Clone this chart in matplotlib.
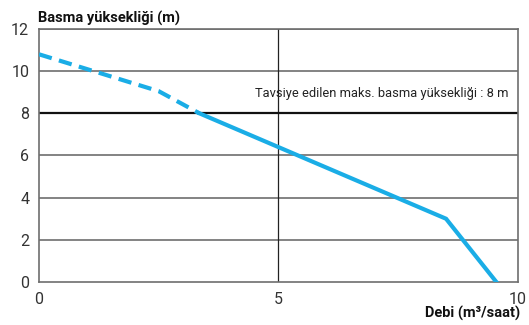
import matplotlib.pyplot as plt

# Pompa eğrisi (debi m3/saat, basma yüksekliği m)
debi_kesikli = [0, 2.5, 3.35]
basma_kesikli = [10.8, 9.05, 8.0]
debi_surekli = [3.35, 8.5, 9.55]
basma_surekli = [8.0, 3.0, 0.0]

maks_basma = 8
x_ticks = [0, 5, 10]
y_ticks = [0, 2, 4, 6, 8, 10, 12]

plt.rcParams['font.family'] = ['Roboto', 'DejaVu Sans']

mavi = '#1aade6'
gri = '#6e6e6e'

fig = plt.figure(figsize=(5.29, 3.25), dpi=100)
ax = fig.add_axes([0.0737, 0.1323, 0.9053, 0.7785])

ax.set_xlim(0, 10)
ax.set_ylim(0, 12)
ax.set_xticks(x_ticks)
ax.set_yticks(y_ticks)

# ızgara çizgileri
for y in y_ticks[1:]:
    if y == maks_basma:
        continue
    ax.axhline(y, color=gri, lw=1.2, zorder=1)
ax.axvline(5, color='#222222', lw=0.9, zorder=1)
ax.axhline(maks_basma, color='#111111', lw=1.6, zorder=1)

ax.plot(debi_kesikli, basma_kesikli, color=mavi, lw=3, ls=(0, (3.2, 1.8)),
        solid_capstyle='butt', zorder=3)
ax.plot(debi_surekli, basma_surekli, color=mavi, lw=3, zorder=3,
        solid_joinstyle='miter')

ax.text(9.81, 8.95, 'Tavsiye edilen maks. basma yüksekliği : 8 m',
        ha='right', va='center', fontsize=9.3, color='#222222')

for s in ax.spines.values():
    s.set_color(gri)
    s.set_linewidth(1.2)

ax.tick_params(length=0, labelsize=11.5, colors='#333333', pad=7)

fig.text(38 / 529, 1 - 18 / 325, 'Basma yüksekliği (m)', fontsize=10.5,
         fontweight='bold', ha='left', va='center', color='#111111')
fig.text(520 / 529, 1 - 313 / 325, 'Debi (m³/saat)', fontsize=10.5,
         fontweight='bold', ha='right', va='center', color='#111111')

fig.savefig('out.png', dpi=100)
